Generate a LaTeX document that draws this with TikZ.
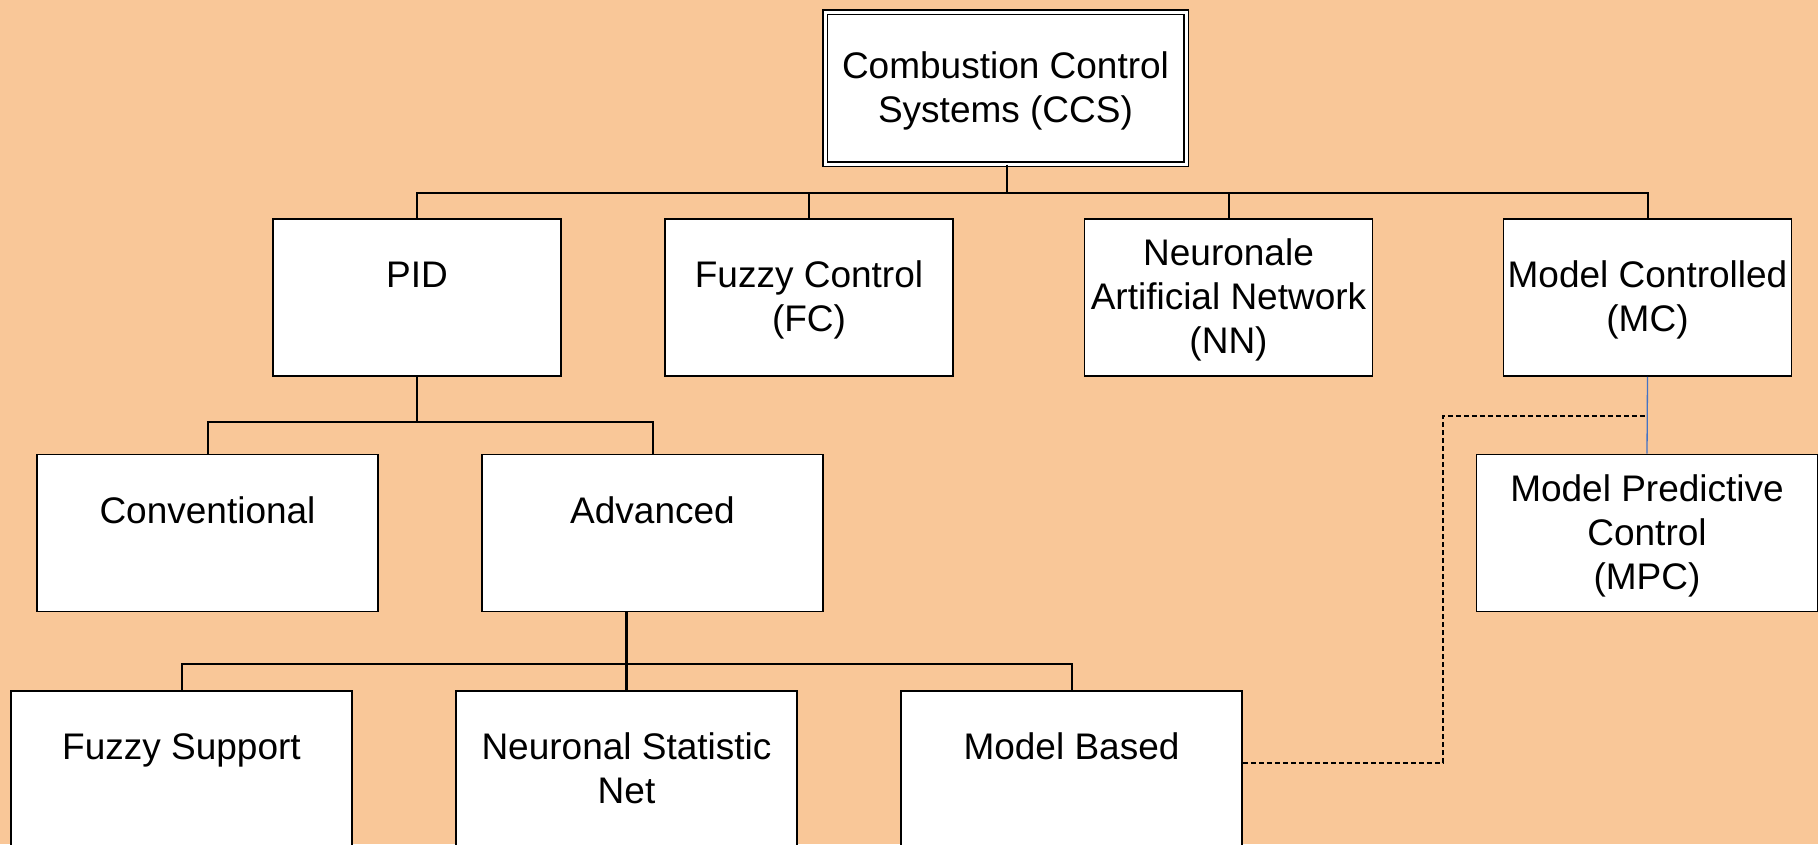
\documentclass[tikz,border=0pt]{standalone}
\usepackage{fontspec}
\setmainfont{Liberation Sans}
\usetikzlibrary{calc}
\definecolor{bgpeach}{RGB}{249,199,152}
\definecolor{linkblue}{RGB}{68,114,196}
\newcommand{\topstrut}{\rule{0pt}{32pt}}

\tikzset{
  box/.style={draw=black,fill=white,line width=1.8pt,inner sep=0pt,align=center,
    font=\fontsize{37}{44}\selectfont,
    execute at end node={\rule[-8pt]{0pt}{8pt}}},
  small/.style={box,minimum width=288,minimum height=157},
  wide/.style={box,minimum width=341,minimum height=157},
  link/.style={line width=2pt}
}

\begin{document}
\begin{tikzpicture}[x=1pt,y=-1pt]
  \useasboundingbox (0,0) rectangle (1818,844);
  \fill[bgpeach] (0,0) rectangle (1818,844);
  \node[box,minimum width=361,minimum height=152,double=white,double distance=3pt,
    line width=1.3pt] (ccs) at (1005.5,88) {\topstrut Combustion Control\\Systems (CCS)};
  \node[small] (pid) at (417,297.5) {\topstrut PID\\\phantom{X}};
  \node[small] (fc) at (809,297.5) {\topstrut Fuzzy Control\\(FC)};
  \node[small] (nn) at (1228.5,297.5) {\topstrut Neuronale\\Artificial Network\\(NN)};
  \node[small] (mc) at (1647.5,297.5) {\topstrut Model Controlled\\(MC)};
  \node[wide] (conv) at (207.5,533) {\topstrut Conventional\\\phantom{X}};
  \node[wide] (adv) at (652.5,533) {\topstrut Advanced\\\phantom{X}};
  \node[wide] (mpc) at (1647,533) {\topstrut Model Predictive\\Control\\(MPC)};
  \node[wide] (fs) at (181.5,769.5) {\topstrut Fuzzy Support\\\phantom{X}};
  \node[wide] (nsn) at (626.5,769.5) {\topstrut Neuronal Statistic\\Net};
  \node[wide] (mb) at (1071.5,769.5) {\topstrut Model Based\\\phantom{X}};
  \coordinate (ccsbus) at (1007,193);
  \coordinate (pidbus) at (417,422);
  \coordinate (advbus) at (626.5,664);
  \coordinate (mcjoin) at (1647.5,416);
  \coordinate (dashturn) at (1443,416);
  \draw[link] (ccs.south -| ccsbus) -- (ccsbus);
  \draw[link] (pid.north) |- (ccsbus);
  \draw[link] (fc.north) |- (ccsbus);
  \draw[link] (nn.north) |- (ccsbus);
  \draw[link] (mc.north) |- (ccsbus);
  \draw[link] (pid.south) -- (pidbus);
  \draw[link] (conv.north) |- (pidbus);
  \draw[link] (adv.north) |- (pidbus);
  \draw[line width=2.8pt] (adv.south -| nsn.north) -- (nsn.north);
  \draw[link] (fs.north) |- (advbus);
  \draw[link] (mb.north) |- (advbus);
  \draw[linkblue,line width=1.3pt] (mc.south) -- (mpc.north);
  \draw[link,line width=2.3pt,dash pattern=on 5pt off 3pt] ([yshift=6.5pt]mb.east) -| (dashturn) -- (mcjoin);
\end{tikzpicture}
\end{document}
